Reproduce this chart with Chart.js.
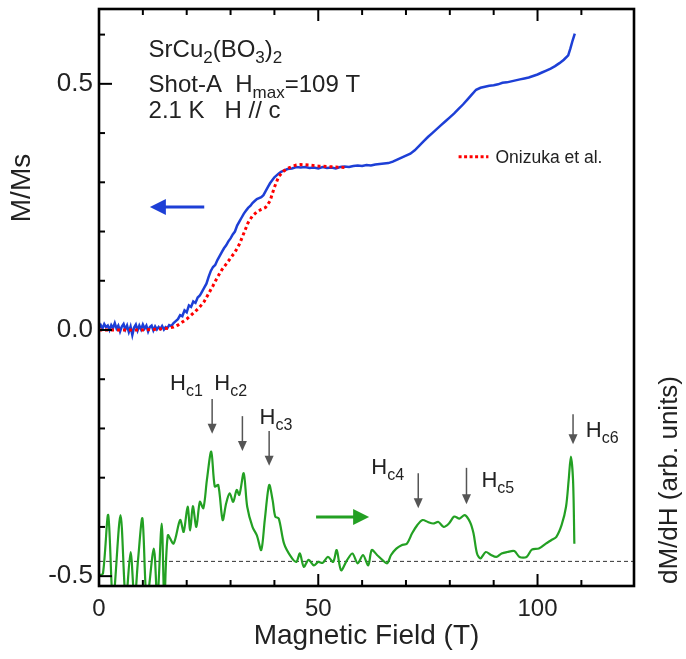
<!DOCTYPE html>
<html><head><meta charset="utf-8">
<script src="https://cdn.jsdelivr.net/npm/chart.js@4.4.0/dist/chart.umd.min.js"></script>
<style>html,body{margin:0;padding:0;background:#fff}#wrap{width:686px;height:659px}</style>
</head><body><div id="wrap"><canvas id="c" width="686" height="659"></canvas></div>
<script>
// ---------------- data ----------------
const fieldBlue = [0,0.4,0.8,1.2,1.6,2.0,2.4,2.8,3.2,3.6,4.0,4.4,4.8,5.2,5.6,6.0,6.4,6.8,7.2,7.6,8.0,8.4,8.8,9.2,9.6,10.0,10.4,10.8,11.2,11.6,12.0,12.4,12.8,13.2,13.6,14.0,14.4,14.8,15.2,15.6,16.0,16.5,17.0,17.5,18.0,18.5,19.0,19.5,20.0,20.5,21.0,21.5,22.0,22.5,23.0,23.5,24.0,24.5,25.0,25.5,26.0,26.5,27.0,27.5,28.0,28.5,29.0,29.5,30.0,30.5,31.0,31.5,32.0,32.5,33.0,33.5,34.0,34.5,35.0,35.5,36.0,36.5,37.0,37.5,38.0,38.5,39.0,39.5,40.0,40.5,41.0,41.5,42.0,43,44,45,46,47,48,49,50,51,52,53,54,55,56,57,58,59,60,61,62,63,64,65,66,67,68,69,70,71,72,73,74,75,76,77,78,79,80,81,82,83,84,85,86,87,88,89,90,91,92,93,94,95,96,97,98,99,100,101,102,103,104,105,106,107,107.5,108,108.5];
const mBlue = [0.004,0.010,0.003,0.012,0.006,0.009,0.000,0.010,0.004,0.014,0.003,0.009,-0.003,0.007,0.012,0.001,0.009,-0.004,0.007,-0.010,0.005,0.011,-0.001,0.009,0.001,0.011,0.003,0.009,-0.003,0.006,0.009,-0.001,0.007,0.001,0.006,0.002,0.008,0.001,0.006,0.004,0.010,0.008,0.014,0.018,0.022,0.030,0.028,0.040,0.036,0.050,0.047,0.058,0.055,0.066,0.070,0.078,0.086,0.094,0.108,0.120,0.128,0.132,0.142,0.150,0.158,0.166,0.172,0.180,0.186,0.194,0.200,0.212,0.220,0.228,0.236,0.242,0.248,0.252,0.258,0.262,0.266,0.268,0.270,0.274,0.282,0.290,0.298,0.304,0.310,0.314,0.318,0.321,0.323,0.327,0.328,0.331,0.330,0.331,0.329,0.330,0.328,0.331,0.329,0.330,0.328,0.331,0.332,0.331,0.333,0.334,0.333,0.335,0.334,0.336,0.337,0.338,0.339,0.342,0.346,0.350,0.354,0.358,0.365,0.374,0.383,0.392,0.400,0.408,0.416,0.424,0.432,0.440,0.449,0.458,0.468,0.478,0.488,0.492,0.494,0.496,0.497,0.499,0.502,0.503,0.505,0.507,0.509,0.511,0.513,0.516,0.519,0.523,0.527,0.531,0.536,0.542,0.549,0.558,0.572,0.588,0.602];

const fieldRed = [0,2,4,6,8,10,12,14,16,17,18,19,20,21,22,23,24,25,26,27,28,29,30,31,32,33,34,35,36,37,38,39,40,41,42,43,44,45,46,48,50,52,54,56];
const mRed = [0,0,0,0,0,0,0.001,0.002,0.004,0.006,0.010,0.016,0.022,0.030,0.038,0.047,0.058,0.074,0.090,0.107,0.122,0.134,0.146,0.158,0.174,0.196,0.218,0.232,0.240,0.245,0.249,0.262,0.290,0.312,0.322,0.328,0.332,0.335,0.336,0.335,0.333,0.332,0.331,0.330];

const fieldGreen = [0.1,0.9,2.1,3.2,4.9,6.1,7.2,8.1,8.9,9.9,10.9,12.5,13.3,14.3,14.9,15.7,17.0,18.5,19.3,20.2,20.8,21.4,22.2,23.0,23.8,24.6,25.6,26.4,27.2,28.2,29.0,29.8,30.6,31.4,32.0,33.0,33.8,35.0,36.0,37.0,37.8,38.8,39.6,40.2,41.0,42.2,43.8,45.0,45.8,46.7,47.8,49.0,50.0,51.0,52.2,53.4,54.2,55.2,56.6,57.8,59.0,60.2,61.4,62.2,63.4,64.6,65.7,66.6,67.8,69.0,70.2,71.4,72.6,73.8,75.0,76.2,77.4,78.6,79.8,81.0,82.2,83.4,84.6,85.4,86.2,87.0,88.2,89.4,90.6,91.8,93.1,94.7,95.9,97.5,98.7,100.3,101.9,103.1,104.3,105.5,106.5,107.1,107.6,108.1,108.4];
const dMdH = [-0.498,-0.495,-0.376,-0.55,-0.376,-0.55,-0.451,-0.55,-0.467,-0.383,-0.55,-0.444,-0.55,-0.393,-0.55,-0.417,-0.434,-0.386,-0.410,-0.359,-0.407,-0.358,-0.400,-0.349,-0.362,-0.305,-0.247,-0.318,-0.315,-0.386,-0.352,-0.332,-0.349,-0.325,-0.335,-0.291,-0.359,-0.400,-0.417,-0.447,-0.386,-0.315,-0.346,-0.379,-0.383,-0.434,-0.461,-0.471,-0.454,-0.481,-0.467,-0.478,-0.471,-0.473,-0.461,-0.471,-0.447,-0.488,-0.467,-0.454,-0.474,-0.457,-0.478,-0.447,-0.457,-0.467,-0.474,-0.457,-0.444,-0.437,-0.434,-0.413,-0.396,-0.386,-0.390,-0.393,-0.390,-0.400,-0.393,-0.379,-0.383,-0.376,-0.390,-0.413,-0.454,-0.464,-0.451,-0.457,-0.461,-0.454,-0.451,-0.449,-0.461,-0.461,-0.446,-0.444,-0.434,-0.427,-0.420,-0.396,-0.359,-0.305,-0.257,-0.305,-0.434];

const baselineLevel = -0.47;
const xRange = [0, 122];
const yRange = [-0.52, 0.652];
const xMajorLabels = [0, 50, 100];
const yMajorLabels = [-0.5, 0, 0.5];

// critical field markers
const hcNames  = ['c1','c2','c3','c4','c5','c6'];
const hcField  = [25.8, 32.7, 38.8, 72.8, 83.8, 108.1];
const hcTop    = [-0.140,-0.175,-0.205,-0.291,-0.280,-0.171];
const hcBottom = [-0.211,-0.246,-0.276,-0.362,-0.354,-0.232];
const hcLabelT = [16.2, 26.3, 36.6, 62.1, 87.2, 111.0];
const hcLabelV = [-0.122,-0.122,-0.191,-0.293,-0.319,-0.218];

// ---------------- drawing ----------------
const FONT = '"Liberation Sans", Arial, Helvetica, sans-serif';
const TXT = '#222';

function richText(ctx, x, y, parts, size, subSize, subDy) {
  ctx.textAlign = 'left'; ctx.textBaseline = 'alphabetic'; ctx.fillStyle = TXT;
  let cx = x;
  for (const [t, sub] of parts) {
    ctx.font = (sub ? subSize : size) + 'px ' + FONT;
    ctx.fillText(t, cx, y + (sub ? subDy : 0));
    cx += ctx.measureText(t).width;
  }
}
function arrow(ctx, x1, y1, x2, y2, color, lw, hl, hw) {
  const a = Math.atan2(y2 - y1, x2 - x1);
  ctx.save();
  ctx.strokeStyle = color; ctx.fillStyle = color; ctx.lineWidth = lw;
  ctx.beginPath(); ctx.moveTo(x1, y1);
  ctx.lineTo(x2 - Math.cos(a) * hl * 0.8, y2 - Math.sin(a) * hl * 0.8); ctx.stroke();
  ctx.beginPath(); ctx.moveTo(x2, y2);
  ctx.lineTo(x2 - Math.cos(a) * hl + Math.sin(a) * hw, y2 - Math.sin(a) * hl - Math.cos(a) * hw);
  ctx.lineTo(x2 - Math.cos(a) * hl - Math.sin(a) * hw, y2 - Math.sin(a) * hl + Math.cos(a) * hw);
  ctx.closePath(); ctx.fill();
  ctx.restore();
}

const framePlugin = {
  id: 'frame',
  afterDraw(chart) {
    const {ctx, chartArea: a, scales: {x, y}} = chart;
    ctx.save();
    ctx.strokeStyle = '#000'; ctx.lineWidth = 2.6; ctx.lineCap = 'butt';
    ctx.strokeRect(a.left, a.top, a.right - a.left, a.bottom - a.top);
    ctx.lineWidth = 2;
    for (const t of x.ticks) {
      const p = x.getPixelForValue(t.value);
      if (p <= a.left + 1 || p >= a.right - 1) continue;
      const L = (t.value % 50 === 0) ? 12 : 6;
      ctx.beginPath(); ctx.moveTo(p, a.bottom); ctx.lineTo(p, a.bottom - L); ctx.stroke();
      ctx.beginPath(); ctx.moveTo(p, a.top); ctx.lineTo(p, a.top + L); ctx.stroke();
    }
    for (const t of y.ticks) {
      const p = y.getPixelForValue(t.value);
      const major = Math.abs(t.value * 2 - Math.round(t.value * 2)) < 1e-6;
      const L = major ? 13 : 6;
      ctx.beginPath(); ctx.moveTo(a.left, p); ctx.lineTo(a.left + L, p); ctx.stroke();
    }
    ctx.restore();
  }
};

const annotPlugin = {
  id: 'annot',
  afterDatasetsDraw(chart) {
    const {ctx, scales: {x, y}} = chart;
    const X = v => x.getPixelForValue(v), Y = v => y.getPixelForValue(v);
    ctx.save();
    richText(ctx, X(11.3), Y(0.555), [['SrCu',0],['2',1],['(BO',0],['3',1],[')',0],['2',1]], 24, 17, 6);
    richText(ctx, X(11.3), Y(0.484), [['Shot-A  H',0],['max',1],['=109 T',0]], 24, 17, 6);
    richText(ctx, X(11.3), Y(0.431), [['2.1 K   H // c',0]], 24, 17, 6);
    // legend
    ctx.strokeStyle = '#ff0000'; ctx.lineWidth = 3; ctx.setLineDash([3, 2.5]);
    ctx.beginPath(); ctx.moveTo(X(82.0), Y(0.352)); ctx.lineTo(X(88.8), Y(0.352)); ctx.stroke();
    ctx.setLineDash([]);
    richText(ctx, X(90.4), Y(0.339), [['Onizuka et al.',0]], 17.5, 12, 4);
    // direction arrows
    arrow(ctx, X(24.0), Y(0.250), X(11.6), Y(0.250), '#1d3fd6', 3, 16, 8);
    arrow(ctx, X(49.5), Y(-0.380), X(61.6), Y(-0.380), '#23a023', 3, 16, 8);
    // critical fields
    for (let i = 0; i < hcNames.length; i++) {
      arrow(ctx, X(hcField[i]), Y(hcTop[i]), X(hcField[i]), Y(hcBottom[i]), '#555', 1.5, 10, 4.5);
      richText(ctx, X(hcLabelT[i]), Y(hcLabelV[i]), [['H',0],[hcNames[i],1]], 22, 16, 6);
    }
    // axis side titles
    ctx.fillStyle = TXT; ctx.textAlign = 'center'; ctx.textBaseline = 'middle';
    ctx.font = '28px ' + FONT;
    ctx.save(); ctx.translate(22, 188); ctx.rotate(-Math.PI / 2); ctx.fillText('M/Ms', 0, 0); ctx.restore();
    ctx.font = '26px ' + FONT;
    ctx.save(); ctx.translate(670, 480); ctx.rotate(-Math.PI / 2); ctx.fillText('dM/dH (arb. units)', 0, 0); ctx.restore();
    ctx.restore();
  }
};

const pts = (xs, ys) => xs.map((v, i) => ({x: v, y: ys[i]}));

new Chart(document.getElementById('c'), {
  type: 'line',
  data: {
    datasets: [
      {label: 'Onizuka et al.', data: pts(fieldRed, mRed), borderColor: '#ff0000', borderWidth: 3, borderDash: [3, 3], pointRadius: 0, order: 1},
      {label: 'M/Ms', data: pts(fieldBlue, mBlue), borderColor: '#1d3fd6', borderWidth: 2.5, pointRadius: 0, order: 2},
      {label: 'dM/dH', data: pts(fieldGreen, dMdH), borderColor: '#23a023', borderWidth: 2.2, pointRadius: 0, tension: 0.3, order: 3},
      {label: 'baseline', data: pts(xRange, [baselineLevel, baselineLevel]), borderColor: '#333', borderWidth: 1, borderDash: [4, 3], pointRadius: 0, order: 4}
    ]
  },
  options: {
    responsive: false, animation: false, devicePixelRatio: 1,
    layout: {padding: {top: 9, right: 52, left: 0, bottom: 0}, autoPadding: false},
    plugins: {legend: {display: false}, tooltip: {enabled: false}},
    scales: {
      x: {
        type: 'linear', min: xRange[0], max: xRange[1],
        afterFit: s => { s.height = 73; s.paddingLeft = 0; s.paddingRight = 0; },
        grid: {display: false, drawTicks: false},
        border: {display: false},
        ticks: {stepSize: 10, autoSkip: false, maxRotation: 0, padding: 9, color: TXT,
          font: {family: FONT, size: 24},
          callback: v => xMajorLabels.includes(v) ? String(v) : ''},
        title: {display: true, text: 'Magnetic Field (T)', color: TXT, font: {family: FONT, size: 28}, padding: {top: 0, bottom: 6}}
      },
      y: {
        type: 'linear', min: yRange[0], max: yRange[1],
        afterFit: s => { s.width = 99; s.paddingTop = 0; s.paddingBottom = 0; },
        grid: {display: false, drawTicks: false},
        border: {display: false},
        ticks: {stepSize: 0.1, includeBounds: false, autoSkip: false, padding: 6, color: TXT,
          font: {family: FONT, size: 26},
          callback: v => yMajorLabels.some(m => Math.abs(m - v) < 1e-6) ? v.toFixed(1) : ''}
      }
    }
  },
  plugins: [framePlugin, annotPlugin]
});
</script></body></html>
